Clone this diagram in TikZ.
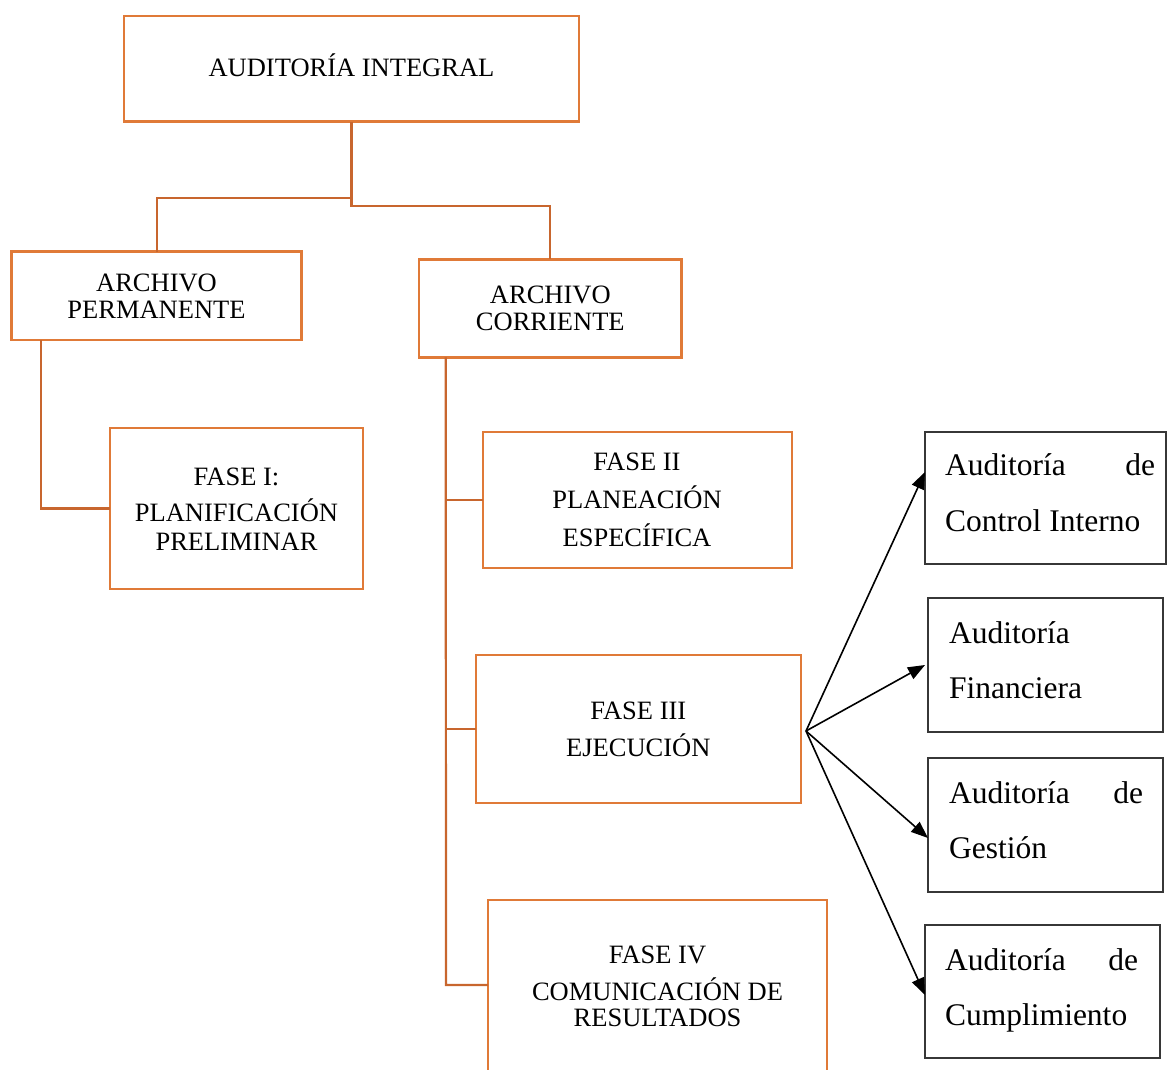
\documentclass[tikz,border=0pt]{standalone}
\usepackage{fontspec}
\setmainfont{Liberation Serif}
\usetikzlibrary{arrows.meta,calc}
\definecolor{obord}{RGB}{224,122,56}
\definecolor{oline}{RGB}{200,102,46}
\definecolor{bbord}{RGB}{55,55,55}
\tikzset{
  obox/.style={draw=obord, line width=2.5pt, rectangle, inner sep=0pt, outer sep=0pt},
  bbox/.style={draw=bbord, line width=1.3pt, rectangle, inner sep=0pt, outer sep=0pt},
  otext/.style={inner sep=0pt, anchor=base, font=\fontsize{26.5}{30}\selectfont},
  btext/.style={inner sep=0pt, anchor=base west, font=\fontsize{31.5}{36}\selectfont},
  conn/.style={draw=oline, line width=2.2pt},
  arr/.style={draw=black, line width=1.6pt, -{Triangle[length=17pt,width=13pt]}}
}
\begin{document}
\begin{tikzpicture}[x=1pt,y=-1pt]
\useasboundingbox (0,0) rectangle (1167,1070);
\clip (0,0) rectangle (1167,1070);
% orange boxes
\node[obox, minimum width=455pt, minimum height=105.7pt] (aud) at (351.5,68.85) {};
\node[obox, minimum width=290pt, minimum height=88.3pt] (ap) at (156.7,295.85) {};
\node[obox, minimum width=262.7pt, minimum height=98pt] (ac) at (550.35,308.3) {};
\node[obox, minimum width=253pt, minimum height=161pt] (f1) at (236.5,508.5) {};
\node[obox, minimum width=309pt, minimum height=136pt] (f2) at (637.5,500) {};
\node[obox, minimum width=325pt, minimum height=148pt] (f3) at (638.5,729) {};
\node[obox, minimum width=339pt, minimum height=175pt] (f4) at (657.5,987.5) {};
% black boxes
\node[bbox, minimum width=241pt, minimum height=132pt] (b1) at (1045.5,498) {};
\node[bbox, minimum width=235pt, minimum height=134pt] (b2) at (1045.5,665) {};
\node[bbox, minimum width=235pt, minimum height=134pt] (b3) at (1045.5,825) {};
\node[bbox, minimum width=235pt, minimum height=133pt] (b4) at (1042.5,991.5) {};
% orange texts
\node[otext] (taud) at (351.5,76.7) {AUDITORÍA INTEGRAL};
\node[otext] (tap1) at (156.5,291.7) {ARCHIVO};
\node[otext] (tap2) at (156.5,318.3) {PERMANENTE};
\node[otext] (tac1) at (550.3,303.3) {ARCHIVO};
\node[otext] (tac2) at (550.3,330) {CORRIENTE};
\node[otext] (tf11) at (236.5,485) {FASE I:};
\node[otext] (tf12) at (236.5,521.7) {PLANIFICACIÓN};
\node[otext] (tf13) at (236.5,550) {PRELIMINAR};
\node[otext] (tf21) at (637,470) {FASE II};
\node[otext] (tf22) at (637,508) {PLANEACIÓN};
\node[otext] (tf23) at (637,546.7) {ESPECÍFICA};
\node[otext] (tf31) at (638.3,719) {FASE III};
\node[otext] (tf32) at (638.3,756.7) {EJECUCIÓN};
\node[otext] (tf41) at (657.5,963) {FASE IV};
\node[otext] (tf42) at (657.5,1000) {COMUNICACIÓN DE};
\node[otext] (tf43) at (657.5,1026.7) {RESULTADOS};
% black texts
\node[btext] (tb11) at (945,475) {\hbox to 210pt{Auditoría\hfill de}};
\node[btext] (tb12) at (945,531.7) {Control Interno};
\node[btext] (tb21) at (949,643) {Auditoría};
\node[btext] (tb22) at (949,698) {Financiera};
\node[btext] (tb31) at (949,803) {\hbox to 194pt{Auditoría\hfill de}};
\node[btext] (tb32) at (949,858) {Gestión};
\node[btext] (tb41) at (945,970) {\hbox to 193pt{Auditoría\hfill de}};
\node[btext] (tb42) at (945,1025) {Cumplimiento};
% connectors
\coordinate (jl) at (351.5,198.3);
\coordinate (jr) at (351.5,206);
\draw[conn] (aud.south) -- (jl) -| (ap.north);
\draw[conn] (jl) -- (jr) -| (ac.north);
\draw[conn] ([xshift=29.3pt]ap.south west) |- (f1.west);
\coordinate (ttop) at ([xshift=26.7pt]ac.south west);
\coordinate (t4) at (446,985);
\draw[conn] (ttop) -- (t4) -- (t4 -| f4.west);
\draw[conn] (ttop |- f2.west) -- (f2.west);
\draw[conn] (ttop |- f3.west) -- (f3.west);
% arrows
\coordinate (src) at ([xshift=5pt,yshift=-2pt]f3.east);
\draw[arr] (src) -- ([yshift=26pt]b1.west);
\draw[arr] (src) -- ([xshift=-3pt]b2.west);
\draw[arr] (src) -- ([yshift=-13pt]b3.west);
\draw[arr] (src) -- ([yshift=-3.5pt]b4.west);
\end{tikzpicture}
\end{document}
